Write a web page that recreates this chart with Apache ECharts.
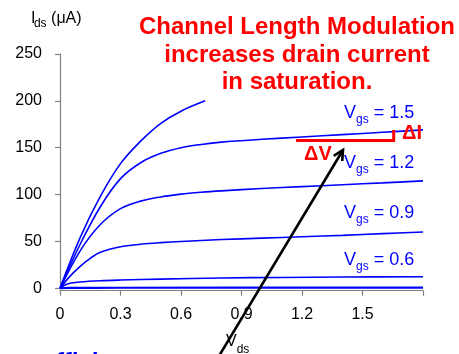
<!DOCTYPE html>
<html>
<head>
<meta charset="utf-8">
<script src="https://cdn.jsdelivr.net/npm/echarts@6/dist/echarts.min.js"></script>
<style>
  html, body { margin: 0; padding: 0; background: #fff; }
  #chart { width: 459px; height: 354px; }
</style>
</head>
<body>
<div id="chart"></div>
<script>
// Drain current Ids (uA) versus drain voltage Vds (V) for several gate voltages
const vdsVgs18 = [0, 0.1, 0.2, 0.3, 0.4, 0.5, 0.6, 0.72];
const idsVgs18 = [0, 54, 98, 133, 157, 176, 189, 200];

const vdsSat = [0, 0.1, 0.2, 0.3, 0.4, 0.5, 0.6, 0.7, 0.8, 1.0, 1.2, 1.4, 1.6, 1.8];
const idsVgs15 = [0, 47, 87, 117, 134, 144, 150, 153.5, 156, 159, 161.5, 164, 166.5, 169];
const idsVgs12 = [0, 40, 68, 85, 93, 97.5, 100.5, 102.5, 104, 106.5, 108.5, 110.5, 112.5, 114.6];

const vdsVgs09 = [0, 0.05, 0.1, 0.15, 0.2, 0.3, 0.4, 0.5, 0.6, 0.8, 1.0, 1.2, 1.4, 1.6, 1.8];
const idsVgs09 = [0, 13, 23.5, 32, 38.5, 44.4, 47, 48.7, 50, 52, 53.5, 55, 56.5, 58.3, 60];

const vdsVgs06 = [0, 0.025, 0.05, 0.1, 0.2, 0.3, 0.5, 0.8, 1.1, 1.4, 1.8];
const idsVgs06 = [0, 3.6, 5.3, 6.8, 8.1, 8.8, 9.8, 11, 11.6, 12, 12.4];

const vdsVgs03 = [0, 0.05, 0.3, 1.8];
const idsVgs03 = [0, 0.4, 0.6, 0.8];

// Gate voltage labels printed next to the curves
const vgsLabels = ['1.5', '1.2', '0.9', '0.6'];

// Axis tick labels
const xTickLabels = ['0', '0.3', '0.6', '0.9', '1.2', '1.5', ''];
const yTickLabels = ['0', '50', '100', '150', '200', '250'];

const titleLines = ['Channel Length Modulation', 'increases drain current', 'in saturation.'];

const FONT = "'Liberation Sans', Arial, sans-serif";
const BLUE = '#0000ff';
const RED = '#ff0000';
const AXIS_GREY = '#808080';

const measureCtx = document.createElement('canvas').getContext('2d');
function textWidth(str, size, weight) {
  measureCtx.font = (weight || 'normal') + ' ' + size + 'px ' + FONT;
  return measureCtx.measureText(str).width;
}

// Text element placed by its alphabetic baseline
function textAt(str, x, baseline, size, color, extra, align) {
  return {
    type: 'text',
    x: x,
    y: baseline - 0.25 * size,
    z: 50,
    style: Object.assign({
      text: str,
      fontSize: size,
      fontFamily: FONT,
      fill: color,
      textAlign: align || 'left',
      verticalAlign: 'middle'
    }, extra || {})
  };
}

// Main text followed by a lowered subscript and an optional tail
function subscripted(x, baseline, main, sub, rest, size, subSize, color, drop, kern) {
  const els = [];
  els.push(textAt(main, x, baseline, size, color));
  const subX = x + textWidth(main, size) + (kern || 0);
  els.push(textAt(sub, subX, baseline + drop, subSize, color));
  if (rest) {
    els.push(textAt(rest, subX + textWidth(sub, subSize), baseline, size, color));
  }
  return els;
}

function pairs(xs, ys) {
  return xs.map((v, i) => [v, ys[i]]);
}

function curve(name, xs, ys, width) {
  return {
    name: name,
    type: 'line',
    data: pairs(xs, ys),
    showSymbol: false,
    smooth: 0.35,
    silent: true,
    lineStyle: { color: BLUE, width: width || 1.6 },
    itemStyle: { color: BLUE }
  };
}

const graphics = [];

// Red headline
const titleBaselines = [33.5, 61, 88.5];
titleLines.forEach((line, i) => {
  graphics.push(textAt(line, 297, titleBaselines[i], 24, RED, { fontWeight: 'bold' }, 'center'));
});

// Vgs curve labels
const vgsBaselines = [118, 168, 218, 265];
vgsLabels.forEach((v, i) => {
  subscripted(344, vgsBaselines[i], 'V', 'gs', ' = ' + v, 18, 12, BLUE, 5).forEach(e => graphics.push(e));
});

// Axis titles
subscripted(31, 22.7, 'I', 'ds', ' (\u03bcA)', 16, 12, '#000', 4, -1.5).forEach(e => graphics.push(e));
subscripted(226, 345.5, 'V', 'ds', '', 16, 12, '#000', 7).forEach(e => graphics.push(e));

// Delta V / Delta I bracket
graphics.push({
  type: 'polyline',
  z: 60,
  shape: { points: [[296, 140.5], [393.7, 140.5], [393.7, 130]] },
  style: { stroke: RED, lineWidth: 3, fill: null, lineJoin: 'miter', lineCap: 'butt' }
});
graphics.push(textAt('\u0394I', 402, 138.3, 20, RED, { fontWeight: 'bold' }));
graphics.push(textAt('\u0394V', 304, 159, 20, RED, { fontWeight: 'bold' }));

// Black pointer arrow
const tail = [219, 356];
const tip = [343, 150];
(function () {
  const dx = tip[0] - tail[0], dy = tip[1] - tail[1];
  const len = Math.hypot(dx, dy);
  const bx = -dx / len, by = -dy / len;
  const ang = 27 * Math.PI / 180, wing = 11;
  const rot = (a) => [tip[0] + wing * (bx * Math.cos(a) - by * Math.sin(a)),
                      tip[1] + wing * (bx * Math.sin(a) + by * Math.cos(a))];
  graphics.push({
    type: 'line', z: 70,
    shape: { x1: tail[0], y1: tail[1], x2: tip[0], y2: tip[1] },
    style: { stroke: '#000', lineWidth: 2.6 }
  });
  graphics.push({
    type: 'polyline', z: 70,
    shape: { points: [rot(ang), tip, rot(-ang)] },
    style: { stroke: '#000', lineWidth: 2.6, fill: null, lineJoin: 'miter' }
  });
})();

// Caption line running off the bottom edge
graphics.push(textAt('coefficient', 13, 369, 24, BLUE, { fontWeight: 'bold', fontStyle: 'italic' }));

const chart = echarts.init(document.getElementById('chart'), null, { renderer: 'canvas' });

chart.setOption({
  animation: false,
  backgroundColor: '#fff',
  grid: { left: 60, right: 36, top: 54, bottom: 65.7 },
  xAxis: {
    type: 'value',
    min: 0,
    max: 1.8,
    interval: 0.3,
    offset: 2.4,
    axisLine: { show: true, onZero: false, lineStyle: { color: AXIS_GREY, width: 1.2 } },
    axisTick: { show: true, length: 5, lineStyle: { color: AXIS_GREY, width: 1.2 } },
    splitLine: { show: false },
    axisLabel: {
      margin: 15.5,
      fontSize: 16,
      fontFamily: FONT,
      color: '#000',
      showMaxLabel: true,
      formatter: (v) => xTickLabels[Math.round(v / 0.3)]
    }
  },
  yAxis: {
    type: 'value',
    min: 0,
    max: 250,
    interval: 50,
    offset: 3,
    axisLine: { show: true, lineStyle: { color: AXIS_GREY, width: 1.2 } },
    axisTick: { show: true, length: 5, lineStyle: { color: AXIS_GREY, width: 1.2 } },
    splitLine: { show: false },
    axisLabel: {
      margin: 15,
      fontSize: 16,
      fontFamily: FONT,
      color: '#000',
      formatter: (v) => yTickLabels[Math.round(v / 50)]
    }
  },
  series: [
    curve('Vgs = 1.8', vdsVgs18, idsVgs18),
    curve('Vgs = 1.5', vdsSat, idsVgs15),
    curve('Vgs = 1.2', vdsSat, idsVgs12),
    curve('Vgs = 0.9', vdsVgs09, idsVgs09),
    curve('Vgs = 0.6', vdsVgs06, idsVgs06),
    curve('Vgs = 0.3', vdsVgs03, idsVgs03, 2.2)
  ],
  graphic: graphics
});
</script>
</body>
</html>
